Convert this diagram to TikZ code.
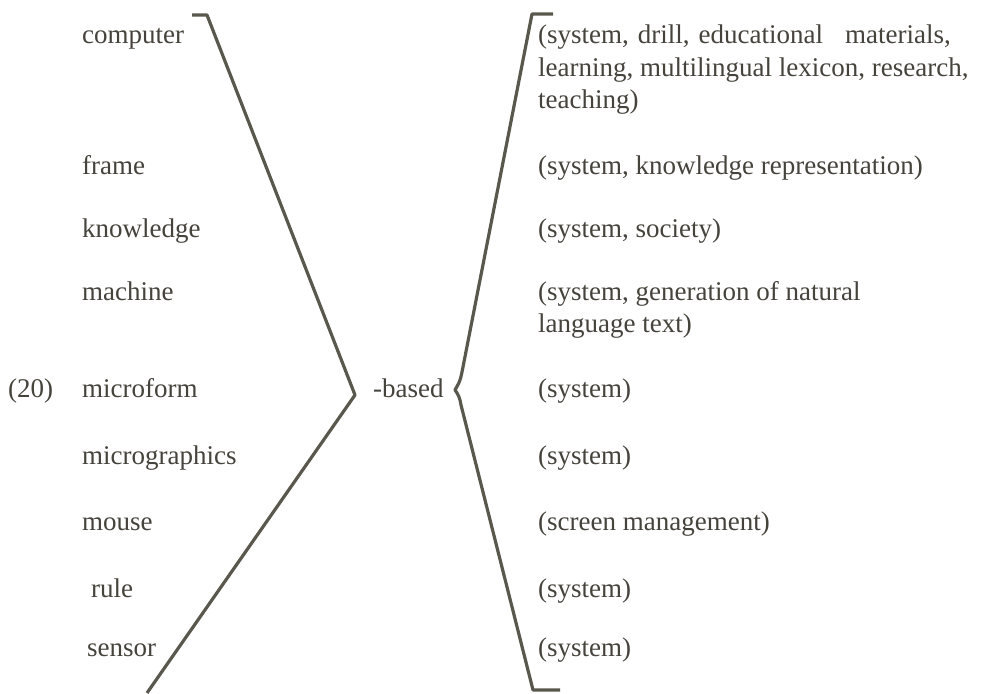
\documentclass[tikz,border=0pt]{standalone}
\usepackage{fontspec}
\setmainfont{Liberation Serif}
\definecolor{txtc}{HTML}{45433B}
\definecolor{linec}{HTML}{5A584D}
\tikzset{
  word/.style={font=\fontsize{27}{31}\selectfont, text=txtc, inner sep=0pt, anchor=base west},
  brack/.style={draw=linec, line width=3.2pt, line join=round, line cap=butt}
}
\begin{document}
\begin{tikzpicture}[x=1pt,y=-1pt]
\useasboundingbox (0,0) rectangle (984,693);
\fill[white] (0,0) rectangle (984,693);
% left column
\node[word] (computer) at (82,44) {computer};
\node[word] (frame) at (82,174) {frame};
\node[word] (knowledge) at (82,237) {knowledge};
\node[word] (machine) at (82,300) {machine};
\node[word] (num) at (8,397) {(20)};
\node[word] (microform) at (82,397) {microform};
\node[word] (micrographics) at (82,464) {micrographics};
\node[word] (mouse) at (82,530) {mouse};
\node[word] (rule) at (91,597) {rule};
\node[word] (sensor) at (87,656) {sensor};
% middle
\node[word] (based) at (373,397) {-based};
% right column
\node[word] (r1a) at (538,44) {(system,\hspace{9pt}drill,\hspace{9pt}educational\hspace{22pt}materials,};
\node[word] (r1b) at (538,76) {learning, multilingual lexicon, research,};
\node[word] (r1c) at (538,108) {teaching)};
\node[word] (r2) at (538,174) {(system, knowledge representation)};
\node[word] (r3) at (538,237) {(system, society)};
\node[word] (r4a) at (538,300) {(system, generation of natural};
\node[word] (r4b) at (538,332) {language text)};
\node[word] (r5) at (538,397) {(system)};
\node[word] (r6) at (538,464) {(system)};
\node[word] (r7) at (538,530) {(screen management)};
\node[word] (r8) at (538,597) {(system)};
\node[word] (r9) at (538,656) {(system)};
% left bracket
\coordinate (lt0) at (192,15);
\coordinate (lt) at (207,15);
\coordinate (lv) at (355,395);
\coordinate (lb) at (147,693);
\draw[brack] (lt0) -- (lt) -- (lv) -- (lb);
% right bracket
\coordinate (rt0) at (553,14);
\coordinate (rt) at (532,14);
\coordinate (rv1) at (462,372);
\coordinate (rv) at (455,390);
\coordinate (rv2) at (461,405);
\coordinate (rb) at (533,690);
\coordinate (rb0) at (560,690);
\draw[brack] (rt0) -- (rt) -- (rv1) .. controls (460,383) and (457,386) .. (rv) .. controls (458,394) and (460,398) .. (rv2) -- (rb) -- (rb0);
\end{tikzpicture}
\end{document}
